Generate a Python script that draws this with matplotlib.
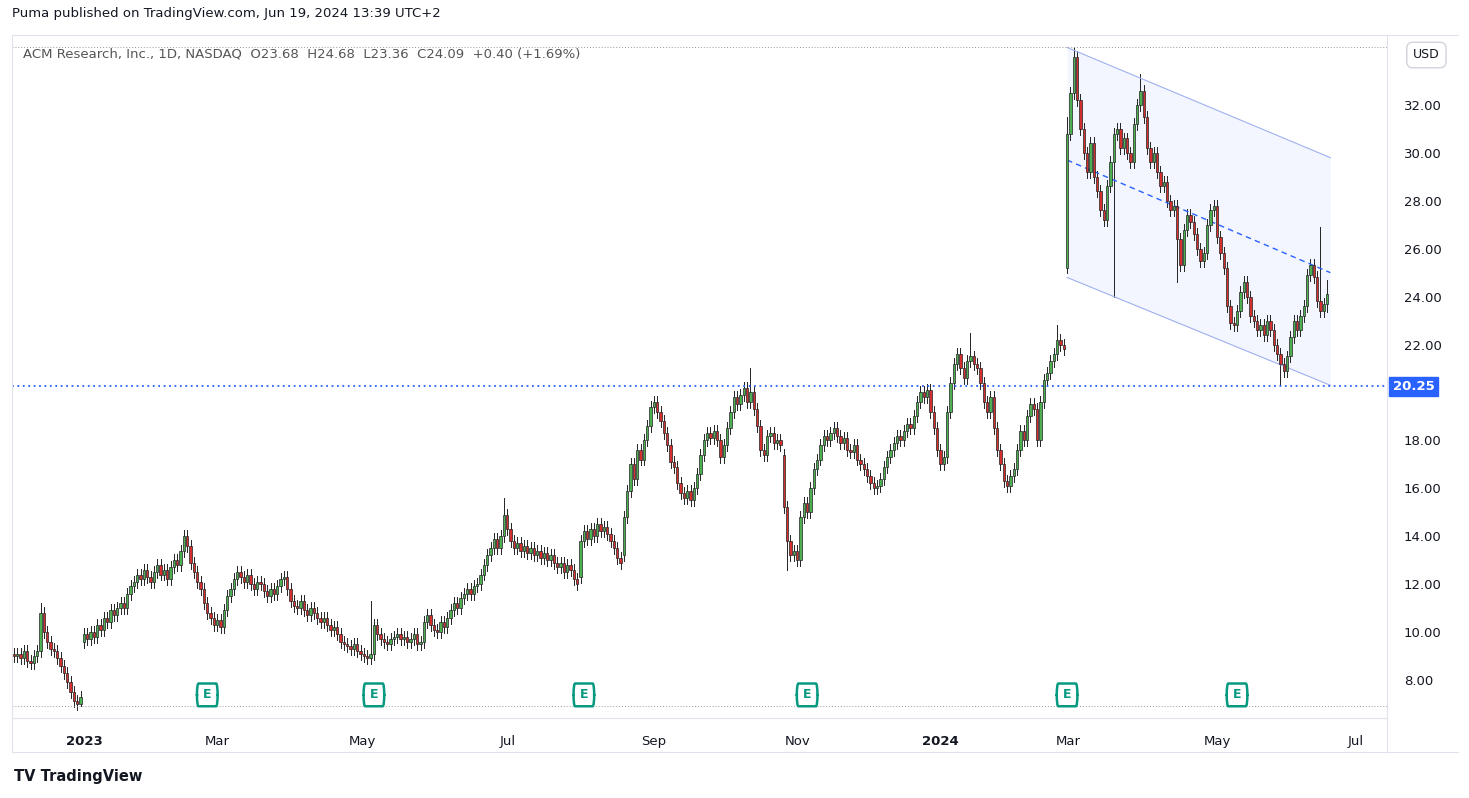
import matplotlib
matplotlib.use("Agg")
import matplotlib.pyplot as plt
from matplotlib.patches import Rectangle, FancyBboxPatch
from matplotlib.lines import Line2D

closes = [
9.0,9.1,8.9,9.2,8.8,8.7,9.0,9.2,10.8,10.0,
9.6,9.3,9.2,8.9,8.6,8.3,7.9,7.5,7.1,7.0,
7.3,9.9,9.7,10.0,9.8,10.3,10.1,10.6,10.4,10.9,
10.7,11.0,11.2,11.0,11.6,11.9,12.1,12.4,12.2,12.6,
12.3,12.1,12.5,12.8,12.4,12.6,12.2,12.7,13.0,12.8,
13.4,14.0,13.6,12.9,12.5,12.1,11.8,11.2,10.8,10.6,
10.3,10.5,10.2,10.9,11.5,11.8,12.2,12.5,12.3,12.1,
12.4,12.0,11.8,12.1,12.0,11.7,11.5,11.8,11.6,11.9,
12.2,12.3,11.8,11.3,11.1,11.0,11.3,10.9,10.7,11.0,
10.8,10.6,10.4,10.6,10.3,10.1,10.2,9.9,9.6,9.5,
9.4,9.3,9.5,9.2,9.1,9.0,8.9,9.1,10.3,9.9,
9.7,9.6,9.5,9.7,9.8,9.9,9.7,9.8,9.6,9.7,
9.9,9.5,9.6,10.4,10.7,10.3,10.1,10.0,10.4,10.2,
10.6,10.9,11.2,11.0,11.4,11.6,11.8,11.6,11.9,12.0,
12.4,12.8,13.2,13.5,13.9,13.5,14.0,14.9,14.3,13.8,
13.5,13.7,13.4,13.6,13.3,13.5,13.2,13.4,13.1,13.3,
13.0,13.2,12.9,12.7,12.9,12.5,12.8,12.6,12.2,12.0,
13.8,14.2,13.9,14.3,14.0,14.5,14.2,14.4,14.1,13.8,
13.5,13.1,12.9,14.8,15.9,17.0,16.4,17.6,17.2,18.0,
18.6,19.4,19.6,19.2,18.8,18.3,17.8,17.1,16.9,16.2,
15.8,15.6,15.9,15.5,16.0,16.6,17.4,18.0,18.3,18.1,
18.4,18.0,17.3,17.8,18.5,19.2,19.8,19.5,19.9,20.2,
19.6,20.0,19.3,18.6,17.6,17.4,18.2,18.3,17.9,18.0,
17.8,15.2,13.8,13.2,13.4,13.0,14.8,15.4,15.0,16.0,
16.8,17.2,17.8,18.2,18.0,18.3,18.5,18.2,17.9,18.1,
17.6,17.5,17.8,17.2,17.0,16.8,16.5,16.2,16.0,16.1,
16.4,16.9,17.3,17.6,17.9,18.2,18.0,18.4,18.7,18.5,
19.0,19.6,20.0,19.8,20.1,19.2,18.5,17.6,17.0,17.3,
19.2,20.4,21.2,21.6,21.0,20.6,21.3,21.5,21.2,21.0,
20.4,19.6,19.2,19.8,18.5,17.6,17.0,16.3,16.1,16.5,
16.8,17.6,18.4,18.0,19.0,19.5,19.3,18.0,19.6,20.5,
20.8,21.3,21.6,22.2,22.0,21.8,
30.8,32.5,34.0,32.2,31.0,30.0,29.2,30.4,29.0,28.4,
27.6,27.2,28.6,29.6,30.8,31.0,30.2,30.6,30.0,29.6,
31.2,32.0,32.6,31.5,30.2,29.6,30.0,29.2,28.6,28.8,
28.0,27.6,27.8,26.4,25.3,26.8,27.4,27.1,26.6,26.0,
25.5,25.8,27.0,27.6,27.8,26.5,25.8,25.2,23.6,22.9,
22.8,23.4,24.2,24.6,24.0,23.2,23.0,22.6,22.8,22.4,
23.0,22.6,22.0,21.6,21.2,20.9,21.5,22.3,23.0,22.6,
23.2,23.6,24.9,25.3,24.8,23.8,23.4,23.68,24.09]
first_open = 9.1
gap_opens = {21: 9.6, 316: 25.2, 231: 17.4, 170: 12.3, 183: 13.2}
wick_high = {8: 11.2, 107: 11.3, 147: 15.6, 316: 31.5, 318: 34.4, 338: 33.3, 392: 26.9, 394: 24.68, 221: 21.0, 287: 22.5, 313: 22.8}
wick_low = {232: 12.6, 330: 24.0, 316: 25.0, 380: 20.3, 394: 23.36, 20: 6.9, 349: 24.6}

tick_pos = [21, 61, 104.5, 148, 192, 235, 278, 316.5, 361, 402.5]
tick_labels = ["2023", "Mar", "May", "Jul", "Sep", "Nov", "2024", "Mar", "May", "Jul"]
price_ticks = [8, 10, 12, 14, 16, 18, 22, 24, 26, 28, 30, 32]
earn_idx = [58, 108, 171, 238, 316, 367]
level = 20.25
chan_x = [316, 395]
chan_up = [34.4, 29.8]
chan_mid = [29.7, 25.0]
chan_lo = [24.8, 20.3]

W, H = 1469, 798
fig = plt.figure(figsize=(W/100, H/100), dpi=100)
fig.patch.set_facecolor("white")
ax = fig.add_axes([12/W, (798-718)/H, (1387-12)/W, (718-35)/H])
ax.set_xlim(-0.6, 412)
ax.set_ylim(6.41, 34.92)

green, red = "#4caf50", "#d32f2f"
n = len(closes)
for i in range(n):
    c = closes[i]
    o = gap_opens.get(i, closes[i-1] if i > 0 else first_open)
    if i == 394: o = 23.68
    hi = wick_high.get(i, max(o, c) + 0.25)
    lo = wick_low.get(i, min(o, c) - 0.25)
    col = green if c >= o else red
    ax.add_line(Line2D([i, i], [lo, hi], color="#222", lw=0.7, zorder=2))
    ax.add_patch(Rectangle((i-0.35, min(o, c)), 0.7, max(abs(c-o), 0.05),
                           facecolor=col, edgecolor="#222", lw=0.5, zorder=3))

ax.fill_between(chan_x, chan_lo, chan_up, color="#2962ff", alpha=0.05, lw=0)
ax.plot(chan_x, chan_up, color="#9fb0f0", lw=0.8)
ax.plot(chan_x, chan_lo, color="#9fb0f0", lw=0.8)
ax.plot(chan_x, chan_mid, color="#2962ff", lw=1, ls=(0, (4, 3)))
ax.axhline(level, color="#2962ff", lw=1.3, ls=(0, (1, 2)))
ax.axhline(34.42, color="#999", lw=0.7, ls=(0, (1, 2)))
ax.axhline(6.9, color="#999", lw=0.7, ls=(0, (1, 2)))

for e in earn_idx:
    ax.add_patch(FancyBboxPatch((e-3.0, 7.0), 6.0, 0.75, boxstyle="round,pad=0.1,rounding_size=0.5",
                                facecolor="white", edgecolor="#089981", lw=1.8, zorder=5))
    ax.text(e, 7.38, "E", color="#089981", fontsize=9, fontweight="bold", ha="center", va="center", zorder=6)

ax.yaxis.tick_right()
ax.set_yticks(price_ticks)
ax.set_yticklabels([f"{v:.2f}" for v in price_ticks])
ax.tick_params(axis="y", length=0, labelsize=9.5, colors="#131722", pad=12)
ax.set_xticks(tick_pos)
ax.set_xticklabels(tick_labels)
for t in ax.get_xticklabels():
    if t.get_text() in ("2023", "2024"):
        t.set_fontweight("bold")
ax.tick_params(axis="x", length=0, labelsize=9.5, colors="#131722", pad=12)
for s in ["top", "left", "bottom"]:
    ax.spines[s].set_visible(False)
ax.spines["right"].set_color("#e0e3eb")

ax.annotate("20.25", xy=(1.0, level), xycoords=("axes fraction", "data"), xytext=(4, 0),
            textcoords="offset points", va="center", ha="left", fontsize=9.5, color="white",
            fontweight="bold", bbox=dict(boxstyle="square,pad=0.25", fc="#2962ff", ec="#2962ff"))

fig.text(12/W, 1-13/H, "Puma published on TradingView.com, Jun 19, 2024 13:39 UTC+2", fontsize=9.5, color="#131722", va="center")
fig.text(23/W, 1-54/H, "ACM Research, Inc., 1D, NASDAQ  O23.68  H24.68  L23.36  C24.09  +0.40 (+1.69%)",
         fontsize=9.5, color="#555", va="center")
fig.text(1413/W, 1-55/H, "USD", fontsize=9, color="#131722", va="center",
         bbox=dict(boxstyle="round,pad=0.5", fc="white", ec="#d1d4dc"))
fig.text(14/W, 1-776/H, "TV TradingView", fontsize=10.5, color="#131722", va="center", fontweight="bold")
for y in [35, 752]:
    fig.add_artist(Line2D([12/W, 1458/W], [1-y/H, 1-y/H], color="#e0e3eb", lw=0.8))
fig.add_artist(Line2D([12/W, 1387/W], [1-718/H, 1-718/H], color="#e0e3eb", lw=0.8))
fig.add_artist(Line2D([12/W, 12/W], [1-35/H, 1-752/H], color="#e0e3eb", lw=0.8))
fig.add_artist(Line2D([1387/W, 1387/W], [1-718/H, 1-752/H], color="#e0e3eb", lw=0.8))
fig.savefig("out.png", dpi=100)
